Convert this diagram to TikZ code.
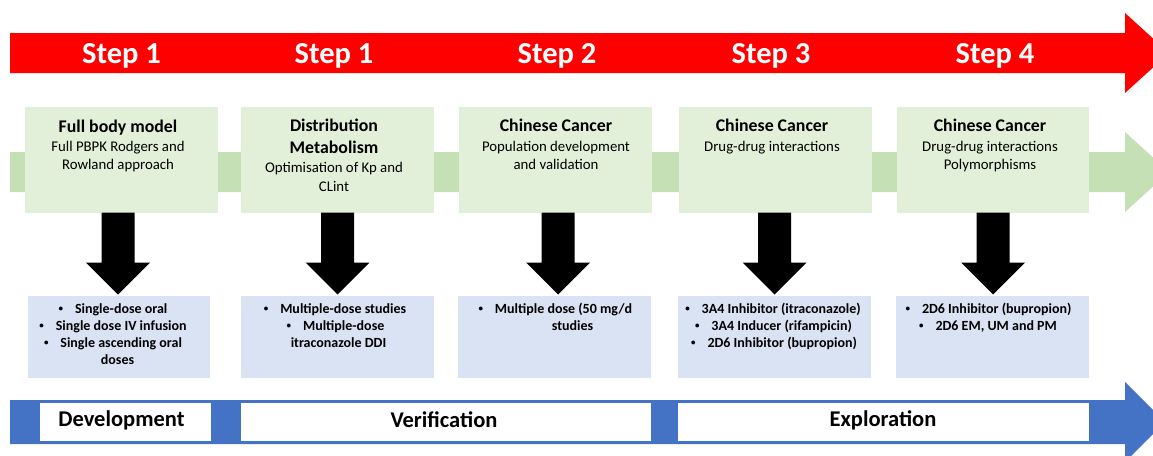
\documentclass[tikz,border=0pt]{standalone}
\usepackage{fontspec}
\setmainfont{Carlito}
\usetikzlibrary{calc}
\definecolor{redbar}{HTML}{FF0000}
\definecolor{greenbar}{HTML}{C5E0B4}
\definecolor{greenbox}{HTML}{E2F0D9}
\definecolor{bluebox}{HTML}{DAE3F3}
\definecolor{bluebar}{HTML}{4472C4}
\tikzset{
  gbox/.style={fill=greenbox, draw=none, inner sep=0pt, outer sep=0pt, minimum height=105.5pt},
  bbox/.style={fill=bluebox, draw=none, inner sep=0pt, outer sep=0pt, minimum height=82pt},
  wbox/.style={fill=white, draw=none, inner sep=0pt, outer sep=0pt, minimum height=38pt},
  steplbl/.style={anchor=base, inner sep=0pt, text=white, font=\bfseries\fontsize{30.5}{36}\selectfont},
  ttl/.style={anchor=base, inner sep=0pt, font=\bfseries\fontsize{17.8}{21}\selectfont},
  bdy/.style={anchor=base, inner sep=0pt, font=\fontsize{14.8}{18}\selectfont},
  blt/.style={anchor=base, inner sep=0pt, font=\bfseries\fontsize{14}{17}\selectfont},
  phase/.style={inner sep=0pt, font=\bfseries\fontsize{22.5}{27}\selectfont},
  blockarrow/.style={fill=black}
}
\newcommand{\bul}{\raisebox{1.6pt}{\fontsize{9}{9}\selectfont\textbullet}\hspace{0.85em}}
\begin{document}
\begin{tikzpicture}[x=1pt,y=-1pt]
\useasboundingbox (0,0) rectangle (1153,455);
\clip (0,0) rectangle (1153,455);

% red arrow
\fill[redbar] (10,33) -- (1125,33) -- (1125,13) -- (1169,53) -- (1125,93) -- (1125,73) -- (10,73) -- cycle;
\node[steplbl] (s1) at (121.5,63) {Step 1};
\node[steplbl] (s2) at (334,63) {Step 1};
\node[steplbl] (s3) at (557,63) {Step 2};
\node[steplbl] (s4) at (771,63) {Step 3};
\node[steplbl] (s5) at (995,63) {Step 4};

% green arrow
\fill[greenbar] (10,152) -- (1125,152) -- (1125,132) -- (1169,172) -- (1125,212) -- (1125,192) -- (10,192) -- cycle;

% green boxes
\node[gbox, minimum width=193pt] (g1) at (121.5,159.75) {};
\node[gbox, minimum width=193pt] (g2) at (337.5,159.75) {};
\node[gbox, minimum width=193pt] (g3) at (555.5,159.75) {};
\node[gbox, minimum width=193pt] (g4) at (775.5,159.75) {};
\node[gbox, minimum width=192pt] (g5) at (993,159.75) {};

\node[ttl] (g1t) at (118,132) {Full body model};
\node[bdy] (g1a) at (118,151) {Full PBPK Rodgers and};
\node[bdy] (g1b) at (118,169) {Rowland approach};

\node[ttl] (g2t) at (334,131) {Distribution};
\node[ttl] (g2u) at (334,153) {Metabolism};
\node[bdy] (g2a) at (334,172) {Optimisation of Kp and};
\node[bdy] (g2b) at (334,191) {CLint};

\node[ttl] (g3t) at (556,131) {Chinese Cancer};
\node[bdy] (g3a) at (556,151) {Population development};
\node[bdy] (g3b) at (556,169) {and validation};

\node[ttl] (g4t) at (772,131) {Chinese Cancer};
\node[bdy] (g4a) at (772,151) {Drug-drug interactions};

\node[ttl] (g5t) at (990,131) {Chinese Cancer};
\node[bdy] (g5a) at (990,151) {Drug-drug interactions};
\node[bdy] (g5b) at (990,169) {Polymorphisms};

% blue boxes
\node[bbox, minimum width=182pt] (b1) at (119,337) {};
\node[bbox, minimum width=193pt] (b2) at (337.5,337) {};
\node[bbox, minimum width=193pt] (b3) at (554.5,337) {};
\node[bbox, minimum width=193pt] (b4) at (774.5,337) {};
\node[bbox, minimum width=193pt] (b5) at (992.5,337) {};

% black block arrows
\foreach \g/\dx in {g1/-3.5, g2/0, g3/2.5, g4/-1, g5/0}{
  \fill[blockarrow] ($(\g.south)+(\dx-16.5,0)$) -- ($(\g.south)+(\dx+16.5,0)$)
    -- ($(\g.south)+(\dx+16.5,50)$) -- ($(\g.south)+(\dx+32,50)$)
    -- ($(\g.south)+(\dx,82)$) -- ($(\g.south)+(\dx-32,50)$)
    -- ($(\g.south)+(\dx-16.5,50)$) -- cycle;
}

\node[blt] (b1a) at (113,313) {\bul Single-dose oral};
\node[blt] (b1b) at (113,330) {\bul Single dose IV infusion};
\node[blt] (b1c) at (113,347) {\bul Single ascending oral};
\node[blt] (b1d) at (117.5,364) {doses};

\node[blt] (b2a) at (335,313) {\bul Multiple-dose studies};
\node[blt] (b2b) at (335.5,330) {\bul Multiple-dose};
\node[blt] (b2c) at (338.5,347) {itraconazole DDI};

\node[blt] (b3a) at (555.3,313) {\bul Multiple dose (50 mg/d};
\node[blt] (b3b) at (572.5,330) {studies};

\node[blt] (b4a) at (773,313) {\bul 3A4 Inhibitor (itraconazole)};
\node[blt] (b4b) at (773.5,330) {\bul 3A4 Inducer (rifampicin)};
\node[blt] (b4c) at (774,347) {\bul 2D6 Inhibitor (bupropion)};

\node[blt] (b5a) at (988.5,313) {\bul 2D6 Inhibitor (bupropion)};
\node[blt] (b5b) at (988,330) {\bul 2D6 EM, UM and PM};

% blue arrow
\fill[bluebar] (10,400) -- (1125,400) -- (1125,382) -- (1165,422) -- (1125,462) -- (1125,444) -- (10,444) -- cycle;
\node[wbox, minimum width=171pt] (w1) at (125.5,422) {};
\node[wbox, minimum width=410pt] (w2) at (446,422) {};
\node[wbox, minimum width=411pt] (w3) at (883.5,422) {};
\node[phase] (p1) at (121.5,420) {Development};
\node[phase] (p2) at (444,420) {Verification};
\node[phase] (p3) at (883,420) {Exploration};
\end{tikzpicture}
\end{document}
